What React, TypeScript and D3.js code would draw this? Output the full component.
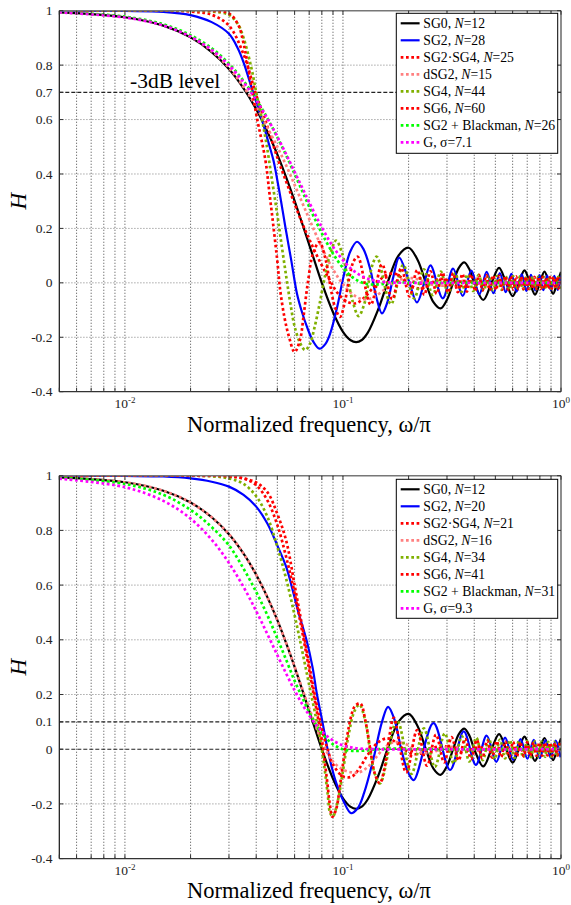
import React from 'react';
import * as d3 from 'd3';

type Pt = [number, number];

// ---------- axis / tick data ----------
const xMajorTicks = [0.01, 0.1, 1];
const xMajorExponents = ['-2', '-1', '0'];
const xGridValues = [0.006, 0.007, 0.008, 0.009, 0.01, 0.02, 0.03, 0.04, 0.05, 0.06, 0.07, 0.08, 0.09, 0.1, 0.2, 0.3, 0.4, 0.5, 0.6, 0.7, 0.8, 0.9];
const topYTicks = [-0.4, -0.2, 0, 0.2, 0.4, 0.6, 0.7, 0.8, 1];
const topYTickLabels = ['-0.4', '-0.2', '0', '0.2', '0.4', '0.6', '0.7', '0.8', '1'];
const topDashedLevels = [0.7];
const bottomYTicks = [-0.4, -0.2, 0, 0.1, 0.2, 0.4, 0.6, 0.8, 1];
const bottomYTickLabels = ['-0.4', '-0.2', '0', '0.1', '0.2', '0.4', '0.6', '0.8', '1'];
const bottomDashedLevels = [0.1, 0];

// ---------- series (shared SG0, N=12) ----------
const sg0Both: Pt[] = [[0.005,0.994],[0.01,0.976],[0.015,0.945],[0.02,0.902],[0.025,0.848],[0.03,0.786],[0.035,0.715],[0.04,0.638],[0.045,0.556],[0.05,0.472],[0.055,0.386],[0.06,0.301],[0.065,0.218],[0.07,0.14],[0.075,0.067],[0.08,0.0],[0.09,-0.108],[0.1,-0.18],[0.108,-0.21],[0.115,-0.218],[0.122,-0.21],[0.13,-0.183],[0.145,-0.098],[0.16,0.0],[0.18,0.101],[0.2,0.129],[0.22,0.084],[0.24,0.0],[0.26,-0.071],[0.28,-0.094],[0.3,-0.062],[0.32,0.0],[0.34,0.055],[0.36,0.075],[0.38,0.05],[0.4,0.0],[0.44,-0.063],[0.48,0.0],[0.52,0.055],[0.56,0.0],[0.6,-0.049],[0.64,0.0],[0.68,0.046],[0.72,0.0],[0.76,-0.043],[0.8,0.0],[0.84,0.041],[0.88,0.0],[0.92,-0.04],[0.96,0.0],[1.0,0.04]];

// ---------- top panel series ----------
const sg2Top: Pt[] = [[0.005,1.0],[0.01,0.999],[0.015,0.996],[0.02,0.984],[0.025,0.958],[0.03,0.915],[0.033,0.86],[0.035,0.81],[0.038,0.72],[0.0425,0.6],[0.045,0.53],[0.048,0.45],[0.0494,0.4],[0.052,0.3],[0.0544,0.206],[0.058,0.08],[0.0615,-0.039],[0.065,-0.11],[0.0684,-0.162],[0.073,-0.215],[0.078,-0.242],[0.083,-0.225],[0.0874,-0.186],[0.094,-0.09],[0.1006,0.023],[0.108,0.115],[0.116,0.151],[0.124,0.125],[0.1334,0.05],[0.142,-0.05],[0.151,-0.112],[0.16,-0.07],[0.17,0.02],[0.181,0.093],[0.2,0.01],[0.2185,-0.072],[0.235,-0.005],[0.252,0.064],[0.287,-0.057],[0.32,0.052],[0.354,-0.048],[0.388,0.045],[0.422,-0.042],[0.456,0.04],[0.49,-0.038],[0.524,0.036],[0.558,-0.034],[0.592,0.033],[0.626,-0.032],[0.66,0.031],[0.694,-0.03],[0.728,0.029],[0.762,-0.028],[0.796,0.028],[0.83,-0.027],[0.864,0.027],[0.898,-0.026],[0.932,0.026],[0.966,-0.026],[1.0,0.026]];

const sg2sg4Top: Pt[] = [[0.005,1.0],[0.015,1.0],[0.02,0.997],[0.025,0.985],[0.03,0.945],[0.035,0.84],[0.04,0.69],[0.045,0.575],[0.05,0.46],[0.055,0.37],[0.06,0.29],[0.065,0.22],[0.0705,0.155],[0.0787,0.075],[0.087,0.01],[0.095,-0.04],[0.105,-0.07],[0.115,-0.075],[0.125,-0.055],[0.14,-0.01],[0.155,0.025],[0.17,0.035],[0.185,0.02],[0.2,-0.005],[0.22,-0.02],[0.24,-0.015],[0.26,0.005],[0.28,0.015],[0.3,0.01],[0.32,-0.005],[0.345,-0.012],[0.37,-0.004],[0.395,0.008],[0.42,0.008],[0.45,-0.005],[0.48,-0.008],[0.51,0.002],[0.54,0.007],[0.57,0.0],[0.6,-0.006],[0.64,-0.002],[0.68,0.005],[0.72,0.002],[0.76,-0.004],[0.8,-0.002],[0.85,0.004],[0.9,0.0],[0.95,-0.003],[1.0,0.0]];

const dsg2Top: Pt[] = [[0.005,0.994],[0.01,0.977],[0.015,0.947],[0.02,0.905],[0.025,0.852],[0.03,0.79],[0.035,0.72],[0.04,0.648],[0.045,0.57],[0.05,0.5],[0.055,0.43],[0.06,0.36],[0.065,0.295],[0.07,0.235],[0.08,0.13],[0.09,0.05],[0.1,-0.005],[0.11,-0.04],[0.12,-0.058],[0.13,-0.06],[0.14,-0.05],[0.155,-0.025],[0.17,0.0],[0.19,0.015],[0.21,0.017],[0.235,0.005],[0.26,-0.008],[0.29,-0.01],[0.32,0.0],[0.35,0.007],[0.39,0.004],[0.43,-0.004],[0.47,-0.005],[0.52,0.002],[0.57,0.004],[0.63,-0.002],[0.7,-0.003],[0.78,0.002],[0.86,0.002],[0.94,-0.002],[1.0,0.0]];

const sg4Top: Pt[] = [[0.005,1.0],[0.02,1.0],[0.025,0.997],[0.03,0.985],[0.033,0.95],[0.035,0.9],[0.038,0.79],[0.04,0.7],[0.0425,0.6],[0.0446,0.51],[0.047,0.39],[0.05,0.25],[0.0525,0.13],[0.055,0.02],[0.0575,-0.08],[0.06,-0.16],[0.0635,-0.22],[0.067,-0.247],[0.0705,-0.225],[0.074,-0.165],[0.078,-0.08],[0.082,0.01],[0.087,0.1],[0.093,0.155],[0.099,0.11],[0.105,0.02],[0.111,-0.07],[0.118,-0.122],[0.125,-0.08],[0.131,0.0],[0.137,0.07],[0.143,0.096],[0.166,-0.078],[0.189,0.066],[0.212,-0.057],[0.235,0.05],[0.258,-0.045],[0.281,0.041],[0.304,-0.038],[0.327,0.035],[0.35,-0.033],[0.373,0.031],[0.396,-0.03],[0.419,0.029],[0.442,-0.028],[0.465,0.027],[0.488,-0.027],[0.511,0.026],[0.534,-0.026],[0.557,0.025],[0.58,-0.025],[0.603,0.025],[0.626,-0.024],[0.649,0.024],[0.672,-0.024],[0.695,0.024],[0.718,-0.023],[0.741,0.023],[0.764,-0.023],[0.787,0.023],[0.81,-0.023],[0.833,0.022],[0.856,-0.022],[0.879,0.022],[0.902,-0.022],[0.925,0.022],[0.948,-0.022],[0.971,0.022],[0.994,-0.022]];

const sg6Top: Pt[] = [[0.005,1.0],[0.025,1.0],[0.03,0.99],[0.033,0.95],[0.035,0.88],[0.0375,0.75],[0.04,0.62],[0.0441,0.45],[0.046,0.33],[0.048,0.206],[0.05,0.08],[0.0516,-0.03],[0.054,-0.13],[0.0562,-0.19],[0.06,-0.254],[0.0635,-0.21],[0.066,-0.12],[0.069,0.0],[0.073,0.11],[0.078,0.15],[0.083,0.09],[0.087,0.0],[0.092,-0.09],[0.097,-0.125],[0.102,-0.07],[0.107,0.02],[0.112,0.08],[0.117,0.096],[0.134,-0.08],[0.151,0.068],[0.168,-0.06],[0.185,0.054],[0.202,-0.05],[0.219,0.047],[0.236,-0.044],[0.252,0.042],[0.269,-0.04],[0.286,0.038],[0.303,-0.036],[0.32,0.035],[0.336,-0.034],[0.353,0.033],[0.37,-0.032],[0.387,0.031],[0.404,-0.03],[0.42,0.029],[0.437,-0.028],[0.454,0.028],[0.471,-0.027],[0.488,0.027],[0.504,-0.026],[0.521,0.026],[0.538,-0.025],[0.555,0.025],[0.572,-0.025],[0.588,0.024],[0.605,-0.024],[0.622,0.024],[0.639,-0.023],[0.656,0.023],[0.672,-0.023],[0.689,0.023],[0.706,-0.023],[0.723,0.022],[0.74,-0.022],[0.756,0.022],[0.773,-0.022],[0.79,0.022],[0.807,-0.022],[0.824,0.022],[0.84,-0.021],[0.857,0.021],[0.874,-0.021],[0.891,0.021],[0.908,-0.021],[0.924,0.021],[0.941,-0.021],[0.958,0.021],[0.975,-0.021],[0.992,0.021]];

const sg2BlackmanTop: Pt[] = [[0.005,0.995],[0.01,0.978],[0.015,0.95],[0.02,0.91],[0.025,0.862],[0.03,0.805],[0.035,0.742],[0.04,0.675],[0.045,0.605],[0.05,0.535],[0.055,0.467],[0.06,0.4],[0.065,0.338],[0.07,0.28],[0.08,0.182],[0.09,0.108],[0.1,0.055],[0.11,0.022],[0.12,0.004],[0.13,-0.005],[0.145,-0.006],[0.16,-0.002],[0.18,0.002],[0.2,0.001],[0.25,0.0],[1.0,0.0]];

const gaussTop: Pt[] = [[0.005,0.994],[0.01,0.975],[0.015,0.946],[0.02,0.905],[0.025,0.856],[0.03,0.8],[0.035,0.737],[0.04,0.672],[0.045,0.604],[0.05,0.537],[0.055,0.471],[0.06,0.408],[0.065,0.35],[0.07,0.296],[0.08,0.204],[0.09,0.133],[0.1,0.083],[0.11,0.049],[0.12,0.028],[0.13,0.015],[0.14,0.008],[0.16,0.002],[0.2,0.0],[1.0,0.0]];

// ---------- bottom panel series ----------
const sg2Bottom: Pt[] = [[0.005,1.0],[0.01,0.999],[0.015,0.997],[0.02,0.99],[0.025,0.978],[0.03,0.96],[0.035,0.93],[0.04,0.887],[0.045,0.825],[0.05,0.745],[0.055,0.665],[0.058,0.6],[0.0625,0.5],[0.068,0.4],[0.0725,0.3],[0.076,0.2],[0.0805,0.1],[0.085,0.0],[0.092,-0.11],[0.1006,-0.19],[0.109,-0.234],[0.117,-0.215],[0.125,-0.16],[0.1375,-0.04],[0.151,0.1],[0.161,0.155],[0.172,0.11],[0.185,0.0],[0.198,-0.08],[0.211,-0.113],[0.26,0.095],[0.31,-0.076],[0.358,0.065],[0.407,-0.057],[0.456,0.05],[0.505,-0.046],[0.554,0.042],[0.603,-0.039],[0.652,0.037],[0.701,-0.035],[0.75,0.034],[0.799,-0.033],[0.848,0.032],[0.897,-0.031],[0.946,0.031],[0.995,-0.03]];

const sg2sg4Bottom: Pt[] = [[0.005,1.0],[0.02,1.0],[0.03,0.997],[0.035,0.99],[0.04,0.975],[0.045,0.94],[0.05,0.86],[0.055,0.76],[0.06,0.6],[0.065,0.45],[0.07,0.31],[0.075,0.18],[0.08,0.075],[0.085,0.0],[0.09,-0.055],[0.1,-0.1],[0.11,-0.1],[0.12,-0.065],[0.13,-0.02],[0.145,0.025],[0.16,0.04],[0.175,0.025],[0.19,0.0],[0.21,-0.018],[0.235,-0.012],[0.26,0.005],[0.285,0.012],[0.31,0.005],[0.34,-0.008],[0.37,-0.008],[0.4,0.003],[0.43,0.006],[0.47,-0.002],[0.51,-0.005],[0.56,0.002],[0.61,0.004],[0.67,-0.002],[0.74,-0.003],[0.82,0.002],[0.9,0.002],[1.0,0.0]];

const dsg2Bottom: Pt[] = [[0.005,0.994],[0.01,0.976],[0.015,0.945],[0.02,0.902],[0.025,0.848],[0.03,0.786],[0.035,0.715],[0.04,0.638],[0.045,0.556],[0.05,0.472],[0.055,0.386],[0.06,0.302],[0.065,0.222],[0.07,0.15],[0.075,0.085],[0.08,0.03],[0.085,-0.015],[0.09,-0.045],[0.1,-0.075],[0.11,-0.085],[0.118,-0.085],[0.13,-0.065],[0.14,-0.035],[0.155,0.005],[0.17,0.025],[0.19,0.022],[0.21,0.002],[0.23,-0.013],[0.255,-0.012],[0.28,0.0],[0.31,0.008],[0.34,0.006],[0.37,-0.003],[0.41,-0.006],[0.45,0.0],[0.5,0.004],[0.56,0.0],[0.62,-0.003],[0.7,0.0],[0.8,0.002],[0.9,-0.001],[1.0,0.0]];

const sg4Bottom: Pt[] = [[0.005,1.0],[0.02,1.0],[0.025,0.998],[0.03,0.99],[0.035,0.97],[0.04,0.925],[0.045,0.85],[0.05,0.74],[0.055,0.62],[0.06,0.49],[0.065,0.36],[0.07,0.235],[0.075,0.12],[0.0785,0.04],[0.082,-0.06],[0.085,-0.16],[0.0875,-0.235],[0.09,-0.245],[0.094,-0.2],[0.1,-0.08],[0.106,0.05],[0.113,0.14],[0.119,0.163],[0.126,0.11],[0.133,0.0],[0.14,-0.09],[0.148,-0.125],[0.177,0.105],[0.206,-0.09],[0.235,0.076],[0.264,-0.065],[0.293,0.058],[0.322,-0.052],[0.351,0.048],[0.38,-0.045],[0.409,0.042],[0.438,-0.04],[0.467,0.038],[0.496,-0.036],[0.525,0.035],[0.554,-0.034],[0.583,0.033],[0.612,-0.032],[0.641,0.031],[0.67,-0.03],[0.699,0.03],[0.728,-0.029],[0.757,0.029],[0.786,-0.028],[0.815,0.028],[0.844,-0.028],[0.873,0.027],[0.902,-0.027],[0.931,0.027],[0.96,-0.027],[0.989,0.027]];

const sg6Bottom: Pt[] = [[0.005,1.0],[0.025,1.0],[0.03,0.998],[0.035,0.99],[0.04,0.965],[0.045,0.91],[0.05,0.82],[0.055,0.7],[0.06,0.57],[0.065,0.43],[0.07,0.29],[0.075,0.16],[0.079,0.06],[0.082,-0.03],[0.0847,-0.12],[0.087,-0.2],[0.0894,-0.247],[0.093,-0.22],[0.0972,-0.125],[0.1037,0.031],[0.109,0.12],[0.1129,0.155],[0.12,0.168],[0.127,0.1],[0.1334,0.0],[0.14,-0.09],[0.1475,-0.125],[0.155,-0.07],[0.162,0.03],[0.171,0.115],[0.195,-0.085],[0.219,0.07],[0.243,-0.06],[0.267,0.053],[0.291,-0.048],[0.315,0.044],[0.339,-0.041],[0.363,0.038],[0.387,-0.036],[0.411,0.034],[0.435,-0.033],[0.459,0.032],[0.483,-0.031],[0.507,0.03],[0.531,-0.029],[0.555,0.028],[0.579,-0.028],[0.603,0.027],[0.627,-0.027],[0.651,0.026],[0.675,-0.026],[0.699,0.025],[0.723,-0.025],[0.747,0.025],[0.771,-0.024],[0.795,0.024],[0.819,-0.024],[0.843,0.024],[0.867,-0.023],[0.891,0.023],[0.915,-0.023],[0.939,0.023],[0.963,-0.023],[0.987,0.023]];

const sg2BlackmanBottom: Pt[] = [[0.005,0.993],[0.01,0.97],[0.015,0.93],[0.02,0.875],[0.025,0.812],[0.03,0.745],[0.035,0.66],[0.04,0.575],[0.045,0.49],[0.05,0.405],[0.055,0.325],[0.06,0.25],[0.065,0.19],[0.07,0.135],[0.075,0.092],[0.08,0.058],[0.09,0.018],[0.1,0.0],[0.11,-0.006],[0.125,-0.005],[0.145,0.0],[0.17,0.002],[0.2,0.0],[1.0,0.0]];

const gaussBottom: Pt[] = [[0.005,0.989],[0.01,0.958],[0.015,0.908],[0.02,0.843],[0.025,0.766],[0.03,0.681],[0.035,0.593],[0.04,0.505],[0.045,0.421],[0.05,0.344],[0.055,0.275],[0.06,0.215],[0.065,0.165],[0.07,0.124],[0.075,0.091],[0.08,0.065],[0.09,0.032],[0.1,0.014],[0.11,0.006],[0.12,0.002],[0.14,0.0],[1.0,0.0]];

// ---------- legend text ----------
const topLegendNames = ['SG0, ', 'SG2, ', 'SG2\u00b7SG4, ', 'dSG2, ', 'SG4, ', 'SG6, ', 'SG2 + Blackman, ', 'G, \u03c3='];
const topLegendValues = ['=12', '=28', '=25', '=15', '=44', '=60', '=26', '7.1'];
const bottomLegendNames = ['SG0, ', 'SG2, ', 'SG2\u00b7SG4, ', 'dSG2, ', 'SG4, ', 'SG6, ', 'SG2 + Blackman, ', 'G, \u03c3='];
const bottomLegendValues = ['=12', '=20', '=21', '=16', '=34', '=41', '=31', '9.3'];

// ---------- styles ----------
const seriesColors = ['#000000', '#0000ff', '#ff0000', '#ff8080', '#80b000', '#ff0000', '#00ff00', '#ff00ff'];
const seriesDotted = [false, false, true, true, true, true, true, true];

const X0 = 59.3;
const X1 = 561;
const SERIF: React.CSSProperties = { fontFamily: '"Liberation Serif", "Times New Roman", "DejaVu Serif", serif' };

interface PanelDef {
  top: number;
  bottom: number;
  series: Pt[][];
  yTicks: number[];
  yLabels: string[];
  dashed: number[];
  names: string[];
  values: string[];
  legendTop: number;
  legendBottom: number;
  showDb: boolean;
}

const panels: PanelDef[] = [
  {
    top: 10.7, bottom: 391.7,
    series: [sg0Both, sg2Top, sg2sg4Top, dsg2Top, sg4Top, sg6Top, sg2BlackmanTop, gaussTop],
    yTicks: topYTicks, yLabels: topYTickLabels, dashed: topDashedLevels,
    names: topLegendNames, values: topLegendValues,
    legendTop: 13.3, legendBottom: 153.3, showDb: true,
  },
  {
    top: 475.7, bottom: 858.6,
    series: [sg0Both, sg2Bottom, sg2sg4Bottom, dsg2Bottom, sg4Bottom, sg6Bottom, sg2BlackmanBottom, gaussBottom],
    yTicks: bottomYTicks, yLabels: bottomYTickLabels, dashed: bottomDashedLevels,
    names: bottomLegendNames, values: bottomLegendValues,
    legendTop: 479.3, legendBottom: 618.3, showDb: false,
  },
];

function strokeProps(i: number) {
  return seriesDotted[i]
    ? { stroke: seriesColors[i], strokeWidth: 2.7, strokeDasharray: '2.7,2.6', fill: 'none' }
    : { stroke: seriesColors[i], strokeWidth: 2.2, fill: 'none' };
}

function Panel({ p, idx }: { p: PanelDef; idx: number }) {
  const x = d3.scaleLog().domain([0.005, 1]).range([X0, X1]);
  const y = d3.scaleLinear().domain([-0.4, 1]).range([p.bottom, p.top]);
  const line = d3.line<Pt>().x(d => x(d[0])).y(d => y(d[1])).curve(d3.curveCatmullRom.alpha(0.5));
  const clipId = `plotclip${idx}`;
  const midY = (p.top + p.bottom) / 2;
  const legX0 = 396.3, legX1 = 557.7;
  const rowY = (i: number) => p.legendTop + 10 + i * 17;
  return (
    <g>
      <defs>
        <clipPath id={clipId}>
          <rect x={X0} y={p.top} width={X1 - X0} height={p.bottom - p.top} />
        </clipPath>
      </defs>
      {xGridValues.map(v => (
        <line key={'vg' + v} x1={x(v)} x2={x(v)} y1={p.top} y2={p.bottom} stroke="#555" strokeWidth={0.9} strokeDasharray="1.2,1.8" />
      ))}
      {p.yTicks.filter(v => v > -0.4 && v < 1 && !p.dashed.includes(v)).map(v => (
        <line key={'hg' + v} x1={X0} x2={X1} y1={y(v)} y2={y(v)} stroke="#888" strokeWidth={0.9} strokeDasharray="1.2,1.8" />
      ))}
      {p.dashed.map(v => (
        <line key={'dl' + v} x1={X0} x2={X1} y1={y(v)} y2={y(v)} stroke="#222" strokeWidth={1.1} strokeDasharray="4,2" />
      ))}
      <g clipPath={`url(#${clipId})`}>
        {p.series.map((s, i) => (
          <path key={'s' + i} d={line(s) || ''} {...strokeProps(i)} />
        ))}
      </g>
      <line x1={X0} x2={X1} y1={p.top} y2={p.top} stroke="#777" strokeWidth={1.5} />
      <line x1={X0} x2={X1} y1={p.bottom} y2={p.bottom} stroke="#333" strokeWidth={1.3} />
      <line x1={X0} x2={X0} y1={p.top} y2={p.bottom} stroke="#111" strokeWidth={1.2} />
      <line x1={X1} x2={X1} y1={p.top} y2={p.bottom} stroke="#444" strokeWidth={1.2} />
      {xGridValues.concat([0.005, 1]).map(v => (
        <g key={'xt' + v}>
          <line x1={x(v)} x2={x(v)} y1={p.top} y2={p.top + 4} stroke="#333" strokeWidth={1} />
          <line x1={x(v)} x2={x(v)} y1={p.bottom} y2={p.bottom - 4} stroke="#333" strokeWidth={1} />
        </g>
      ))}
      {p.yTicks.map(v => (
        <g key={'yt' + v}>
          <line x1={X0} x2={X0 + 4} y1={y(v)} y2={y(v)} stroke="#333" strokeWidth={1} />
          <line x1={X1} x2={X1 - 4} y1={y(v)} y2={y(v)} stroke="#333" strokeWidth={1} />
        </g>
      ))}
      {p.yTicks.map((v, i) => (
        <text key={'yl' + v} x={52.5} y={y(v) + 4.6} textAnchor="end" fontSize={13.5} style={SERIF} fill="#222">{p.yLabels[i]}</text>
      ))}
      {xMajorTicks.map((v, i) => (
        <text key={'xl' + v} x={x(v)} y={p.bottom + 16.5} textAnchor="middle" fontSize={13.5} style={SERIF} fill="#222">
          10<tspan dy={-5.5} fontSize={9}>{xMajorExponents[i]}</tspan>
        </text>
      ))}
      <text x={309} y={p.bottom + 39.8} textAnchor="middle" fontSize={22.5} style={SERIF} fill="#000">Normalized frequency, ω/π</text>
      <text x={0} y={0} transform={`translate(26,${midY}) rotate(-90)`} textAnchor="middle" fontSize={23} fontStyle="italic" style={SERIF} fill="#000">H</text>
      {p.showDb && (
        <text x={130} y={88.3} fontSize={21.5} style={SERIF} fill="#000">-3dB level</text>
      )}
      <rect x={legX0} y={p.legendTop} width={legX1 - legX0} height={p.legendBottom - p.legendTop} fill="#fff" stroke="#000" strokeWidth={1} />
      {p.names.map((name, i) => (
        <g key={'lg' + i}>
          <line x1={400.7} x2={419.6} y1={rowY(i)} y2={rowY(i)} {...strokeProps(i)} />
          <text x={423.3} y={rowY(i) + 5} fontSize={13.7} style={SERIF} fill="#000">
            {name}
            {i < 7 ? <tspan fontStyle="italic">N</tspan> : null}
            {p.values[i]}
          </text>
        </g>
      ))}
    </g>
  );
}

export default function App() {
  return (
    <svg width={571} height={905} style={{ position: 'absolute', left: 0, top: 0, background: '#fff' }}>
      <rect x={0} y={0} width={571} height={905} fill="#fff" />
      {panels.map((p, i) => <Panel key={i} p={p} idx={i} />)}
    </svg>
  );
}
